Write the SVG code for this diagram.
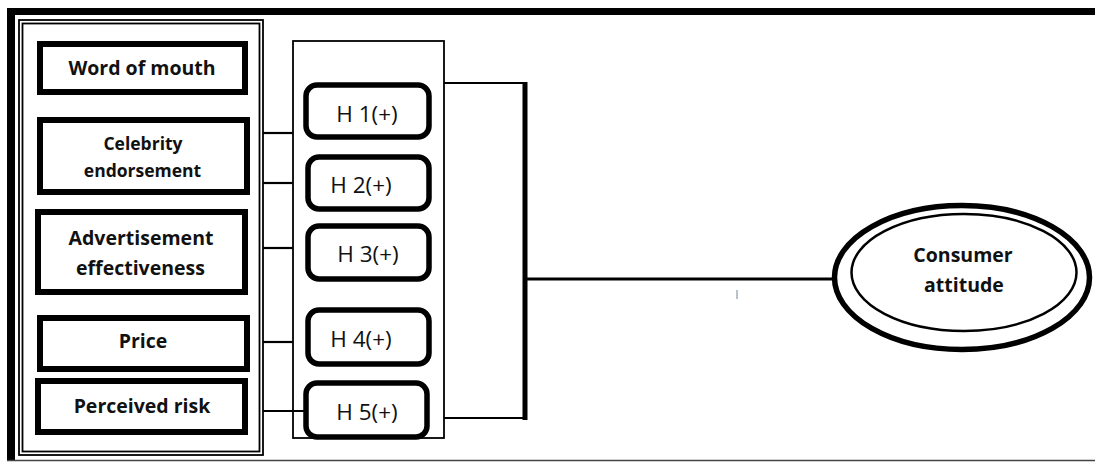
<svg xmlns="http://www.w3.org/2000/svg" width="1095" height="463" viewBox="0 0 1095 463">
<style>
.bg{fill:#fff}
.box{fill:#fff;stroke:#000;stroke-width:6}
.hbox{fill:#fff;stroke:#000;stroke-width:5.5}
.thin{fill:none;stroke:#000;stroke-width:1.8}
.con{fill:none;stroke:#000;stroke-width:2.2}
.lb{font-family:"Open Sans","Liberation Sans",sans-serif;font-weight:700;font-size:19.5px;fill:#111;text-anchor:middle}
.hl{font-family:"Open Sans","Liberation Sans",sans-serif;font-weight:400;font-size:22.5px;fill:#111;text-anchor:middle}
</style>
<rect class="bg" x="0" y="0" width="1095" height="463"/>
<g id="frame">
<line x1="7" y1="11.5" x2="1095" y2="11.5" stroke="#000" stroke-width="7"/>
<line x1="11" y1="8" x2="11" y2="461" stroke="#000" stroke-width="8"/>
<line x1="7" y1="460.5" x2="1095" y2="460.5" stroke="#444" stroke-width="1.5"/>
<rect class="thin" x="19" y="20" width="244" height="435"/>
<rect class="thin" x="22.5" y="23.5" width="237" height="428"/>
<rect class="thin" x="293" y="41" width="151" height="397"/>
</g>
<g id="connectors">
<line class="con" x1="263" y1="133" x2="293" y2="133"/>
<line class="con" x1="263" y1="183" x2="293" y2="183"/>
<line class="con" x1="263" y1="248" x2="293" y2="248"/>
<line class="con" x1="263" y1="342" x2="293" y2="342"/>
<line class="con" x1="263" y1="411" x2="306" y2="411"/>
<polyline class="con" points="444,83 525,83"/>
<polyline class="con" points="444,418 525,418"/>
<line x1="525" y1="82" x2="525" y2="420" stroke="#000" stroke-width="5"/>
<line x1="525" y1="279" x2="834" y2="279" stroke="#000" stroke-width="3"/>
<line x1="737" y1="290" x2="737" y2="299" stroke="#8899aa" stroke-width="1.2"/>
</g>
<g id="word-of-mouth">
<rect class="box" x="40" y="44" width="205" height="48"/>
<text class="lb" x="142" y="75">Word of mouth</text>
</g>
<g id="celebrity-endorsement">
<rect class="box" x="40" y="120" width="207" height="72"/>
<text class="lb" x="143" y="150" style="font-size:17.5px">Celebrity</text>
<text class="lb" x="142.5" y="177" style="font-size:17.5px">endorsement</text>
</g>
<g id="advertisement-effectiveness">
<rect class="box" x="38" y="212" width="207" height="80"/>
<text class="lb" x="141" y="245">Advertisement</text>
<text class="lb" x="140.5" y="275">effectiveness</text>
</g>
<g id="price">
<rect class="box" x="40" y="318" width="207" height="51"/>
<text class="lb" x="143" y="348">Price</text>
</g>
<g id="perceived-risk">
<rect class="box" x="38" y="381" width="207" height="51"/>
<text class="lb" x="142" y="413">Perceived risk</text>
</g>
<g id="h1">
<rect class="hbox" x="306" y="85" width="123" height="52" rx="11"/>
<text class="hl" x="367" y="122">H 1(+)</text>
</g>
<g id="h2">
<rect class="hbox" x="308" y="157" width="121" height="52" rx="11"/>
<text class="hl" x="361" y="193">H 2(+)</text>
</g>
<g id="h3">
<rect class="hbox" x="308" y="226" width="121" height="53" rx="11"/>
<text class="hl" x="368" y="262">H 3(+)</text>
</g>
<g id="h4">
<rect class="hbox" x="308" y="310" width="121" height="54" rx="11"/>
<text class="hl" x="361" y="347">H 4(+)</text>
</g>
<g id="h5">
<rect class="hbox" x="306" y="383" width="121" height="54" rx="11"/>
<text class="hl" x="367" y="420">H 5(+)</text>
</g>
<g id="consumer-attitude">
<ellipse cx="962" cy="277.5" rx="127.5" ry="72" fill="#fff" stroke="#000" stroke-width="5.5"/>
<ellipse cx="964" cy="272.5" rx="112.5" ry="58.5" fill="none" stroke="#000" stroke-width="2.5"/>
<text class="lb" x="963" y="262">Consumer</text>
<text class="lb" x="964" y="292">attitude</text>
</g>
</svg>
